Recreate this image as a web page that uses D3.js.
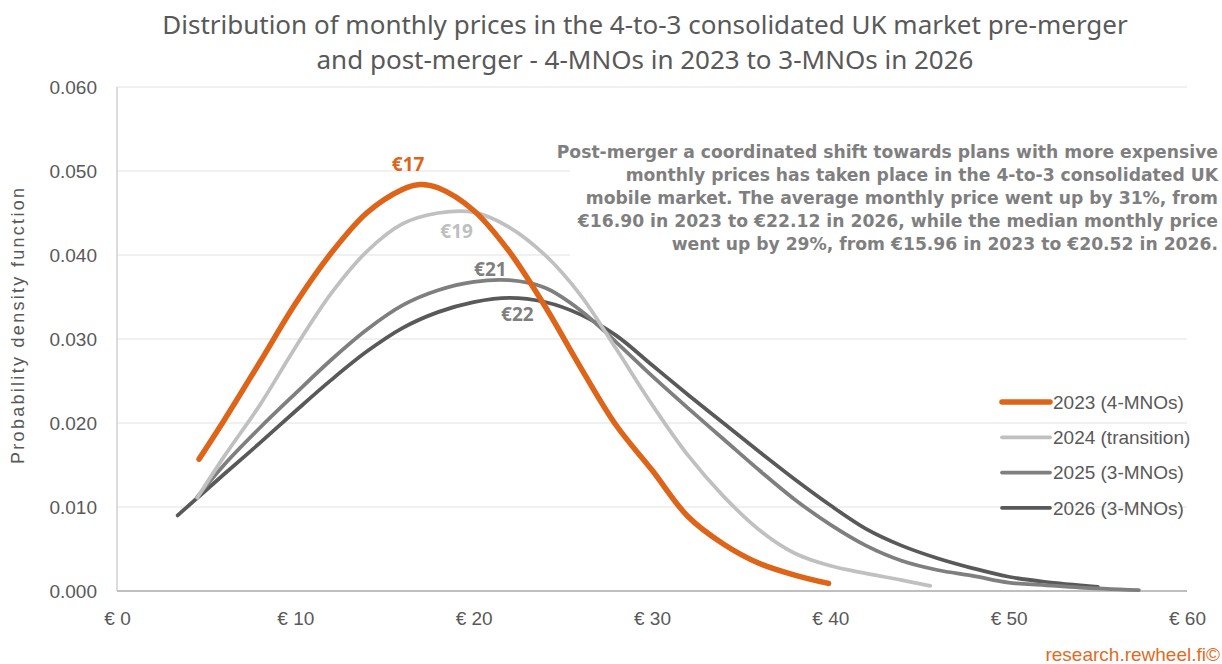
<!DOCTYPE html>
<html>
<head>
<meta charset="utf-8">
<script src="https://cdn.jsdelivr.net/npm/d3@7"></script>
<style>
  body { margin: 0; background: #fff; }
  svg { display: block; }
  .axis text { fill: #595959; font-family: "Liberation Sans", Arial, sans-serif; font-size: 19px; }
</style>
</head>
<body>
<div id="chart"></div>
<script>
// Values (price in €, density)
const prices2023 = [4.6, 6, 8, 10, 12, 14, 16, 17, 18, 20, 22, 24, 26, 28, 30, 32, 34, 36, 38, 39.9];
const density2023 = [0.0157, 0.0203, 0.0272, 0.0342, 0.0402, 0.0450, 0.0478, 0.0484, 0.0480, 0.0453, 0.0404, 0.0339, 0.0266, 0.0197, 0.0144, 0.0089, 0.0056, 0.0033, 0.0019, 0.0009];

const prices2024 = [4.5, 6, 8, 10, 12, 14, 16, 18, 20, 22, 24, 26, 28, 30, 32, 34, 36, 38, 40, 42, 44, 45.6];
const density2024 = [0.0111, 0.0160, 0.0221, 0.0290, 0.0354, 0.0404, 0.0437, 0.0450, 0.0451, 0.0433, 0.0400, 0.0352, 0.0288, 0.0222, 0.0162, 0.0113, 0.0073, 0.0045, 0.0030, 0.0021, 0.0013, 0.0006];

const prices2025 = [4.5, 6, 8, 10, 12, 14, 16, 18, 20, 22, 24, 26, 28, 30, 32, 34, 36, 38, 40, 42, 44, 46, 48, 50, 52, 54, 57.3];
const density2025 = [0.0112, 0.0150, 0.0194, 0.0235, 0.0275, 0.0311, 0.0340, 0.0358, 0.0368, 0.0370, 0.0361, 0.0334, 0.0296, 0.0256, 0.0218, 0.0181, 0.0144, 0.0109, 0.0079, 0.0054, 0.0036, 0.0025, 0.0018, 0.0010, 0.0007, 0.0004, 0.0001];

const prices2026 = [3.4, 6, 8, 10, 12, 14, 16, 18, 20, 22, 24, 26, 28, 30, 32, 34, 36, 38, 40, 42, 44, 46, 48, 50, 52, 55];
const density2026 = [0.0090, 0.0139, 0.0176, 0.0214, 0.0251, 0.0285, 0.0313, 0.0332, 0.0344, 0.0349, 0.0344, 0.0329, 0.0304, 0.0269, 0.0234, 0.0200, 0.0166, 0.0133, 0.0102, 0.0074, 0.0054, 0.0039, 0.0027, 0.0017, 0.0011, 0.0005];

const seriesNames = ['2023 (4-MNOs)', '2024 (transition)', '2025 (3-MNOs)', '2026 (3-MNOs)'];
const peakLabels = ['€17', '€19', '€21', '€22'];

const yTicks = [0, 0.01, 0.02, 0.03, 0.04, 0.05, 0.06];
const xTicks = [0, 10, 20, 30, 40, 50, 60];

const titleLines = [
  'Distribution of monthly prices in the 4-to-3 consolidated UK market pre-merger',
  'and post-merger - 4-MNOs in 2023 to 3-MNOs in 2026'
];
const noteLines = [
  'Post-merger a coordinated shift towards plans with more expensive',
  'monthly prices has taken place in the 4-to-3 consolidated UK',
  'mobile market. The average monthly price went up by 31%, from',
  '€16.90 in 2023 to €22.12 in 2026, while the median monthly price',
  'went up by 29%, from €15.96 in 2023 to €20.52 in 2026.'
];

class DensityChart {

  constructor(_config, _data) {
    this.config = {
      parentElement: _config.parentElement,
      containerWidth: _config.containerWidth || 1222,
      containerHeight: _config.containerHeight || 664,
      margin: { top: 87, bottom: 73, right: 35, left: 117 }
    }
    this.data = _data;
    this.initVis();
  }

  initVis() {
    let vis = this;

    vis.width = vis.config.containerWidth - vis.config.margin.left - vis.config.margin.right;
    vis.height = vis.config.containerHeight - vis.config.margin.top - vis.config.margin.bottom;

    vis.svg = d3.select(vis.config.parentElement).append('svg')
      .attr('width', vis.config.containerWidth)
      .attr('height', vis.config.containerHeight);

    vis.chart = vis.svg.append('g')
      .attr('transform', `translate(${vis.config.margin.left}, ${vis.config.margin.top})`);

    vis.xScale = d3.scaleLinear().domain([0, 60]).range([0, vis.width]);
    vis.yScale = d3.scaleLinear().domain([0, 0.06]).range([vis.height, 0]);

    // gridlines
    vis.chart.append('g')
      .selectAll('line')
      .data(yTicks.filter(d => d > 0))
      .join('line')
      .attr('x1', 0)
      .attr('x2', vis.width)
      .attr('y1', d => vis.yScale(d))
      .attr('y2', d => vis.yScale(d))
      .attr('stroke', '#ebebeb')
      .attr('stroke-width', 1.5);

    vis.xAxis = d3.axisBottom(vis.xScale).tickValues(xTicks).tickSize(0).tickPadding(21)
      .tickFormat(d => `€ ${d}`);
    vis.yAxis = d3.axisLeft(vis.yScale).tickValues(yTicks).tickSize(0).tickPadding(20)
      .tickFormat(d3.format('.3f'));

    vis.chart.append('g')
      .attr('class', 'axis x-axis')
      .attr('transform', `translate(0, ${vis.height})`)
      .call(vis.xAxis)
      .call(g => g.select('.domain').remove());

    vis.chart.append('g')
      .attr('class', 'axis y-axis')
      .call(vis.yAxis)
      .call(g => g.select('.domain').remove());

    // axis lines
    vis.chart.append('line')
      .attr('x1', 0).attr('x2', 0)
      .attr('y1', 0).attr('y2', vis.height)
      .attr('stroke', '#d0d0d0').attr('stroke-width', 1.5);
    vis.chart.append('line')
      .attr('x1', 0).attr('x2', vis.width)
      .attr('y1', vis.height).attr('y2', vis.height)
      .attr('stroke', '#bfbfbf').attr('stroke-width', 2);

    vis.svg.append('text')
      .attr('transform', 'translate(24, 326) rotate(-90)')
      .attr('text-anchor', 'middle')
      .attr('fill', '#595959')
      .attr('textLength', 276)
      .attr('lengthAdjust', 'spacing')
      .style('font-family', '"Liberation Sans", Arial, sans-serif')
      .style('font-size', '18px')
      .text('Probability density function');

    // title
    vis.svg.append('g')
      .selectAll('text')
      .data(titleLines)
      .join('text')
      .attr('x', 645)
      .attr('y', (d, i) => 34 + i * 35)
      .attr('text-anchor', 'middle')
      .attr('fill', '#595959')
      .style('font-family', '"Noto Sans", sans-serif')
      .style('font-size', '26px')
      .text(d => d);

    vis.updateVis();
  }

  updateVis() {
    let vis = this;

    vis.line = d3.line()
      .x(d => vis.xScale(d.price))
      .y(d => vis.yScale(d.density))
      .curve(d3.curveCatmullRom.alpha(0.5));

    vis.renderVis();
  }

  renderVis() {
    let vis = this;

    // annotation box (white fill over gridlines)
    vis.svg.append('rect')
      .attr('x', 570).attr('y', 140)
      .attr('width', 652).attr('height', 118)
      .attr('fill', '#fff');

    vis.svg.append('g')
      .selectAll('text')
      .data(noteLines)
      .join('text')
      .attr('x', 1218)
      .attr('y', (d, i) => 158 + i * 23)
      .attr('text-anchor', 'end')
      .attr('fill', '#7f7f7f')
      .style('font-family', '"DejaVu Sans", sans-serif')
      .style('font-weight', 'bold')
      .style('font-size', '17.2px')
      .text(d => d);

    // draw 2026 first so 2023 ends on top
    const drawOrder = vis.data.slice().reverse();
    vis.chart.append('g')
      .selectAll('path')
      .data(drawOrder)
      .join('path')
      .attr('fill', 'none')
      .attr('stroke', d => d.color)
      .attr('stroke-width', d => d.width)
      .attr('stroke-linecap', 'round')
      .attr('d', d => vis.line(d.values));

    // peak labels
    const peakOf = d => d.values.reduce((a, b) => (b.density > a.density ? b : a));
    vis.chart.append('g')
      .selectAll('text')
      .data(vis.data)
      .join('text')
      .attr('x', d => vis.xScale(peakOf(d).price) + d.labelDx)
      .attr('y', d => vis.yScale(peakOf(d).density) + d.labelDy)
      .attr('text-anchor', 'middle')
      .attr('fill', d => d.labelColor)
      .style('font-family', '"Noto Sans", sans-serif')
      .style('font-weight', 'bold')
      .style('font-size', '19px')
      .text(d => d.label);

    // legend
    const legend = vis.svg.append('g')
      .attr('transform', 'translate(1002, 402)');
    const rows = legend.selectAll('g')
      .data(vis.data)
      .join('g')
      .attr('transform', (d, i) => `translate(0, ${i * 35.3})`);
    rows.append('line')
      .attr('x1', 0).attr('x2', 48)
      .attr('stroke', d => d.color)
      .attr('stroke-width', d => d.width)
      .attr('stroke-linecap', 'round');
    rows.append('text')
      .attr('x', 51)
      .attr('dy', '0.35em')
      .attr('fill', '#595959')
      .style('font-family', '"Liberation Sans", Arial, sans-serif')
      .style('font-size', '19px')
      .text(d => d.name);

    vis.svg.append('text')
      .attr('x', 1220)
      .attr('y', 661)
      .attr('text-anchor', 'end')
      .attr('fill', '#e06b1f')
      .style('font-family', '"Liberation Sans", Arial, sans-serif')
      .style('font-size', '19px')
      .text('research.rewheel.fi©');
  }
}

const zip = (xs, ys) => xs.map((x, i) => ({ price: x, density: ys[i] }));

const chartData = [
  { name: seriesNames[0], label: peakLabels[0], values: zip(prices2023, density2023), color: '#dd6418', width: 5.5, labelColor: '#dd6418', labelDx: -12, labelDy: -13 },
  { name: seriesNames[1], label: peakLabels[1], values: zip(prices2024, density2024), color: '#c0c0c0', width: 3.75, labelColor: '#bfbfbf', labelDx: -17, labelDy: 26 },
  { name: seriesNames[2], label: peakLabels[2], values: zip(prices2025, density2025), color: '#7f7f7f', width: 3.75, labelColor: '#7f7f7f', labelDx: -19, labelDy: -4 },
  { name: seriesNames[3], label: peakLabels[3], values: zip(prices2026, density2026), color: '#595959', width: 3.75, labelColor: '#7f7f7f', labelDx: 8, labelDy: 23 }
];

new DensityChart({ parentElement: '#chart' }, chartData);
</script>
</body>
</html>
